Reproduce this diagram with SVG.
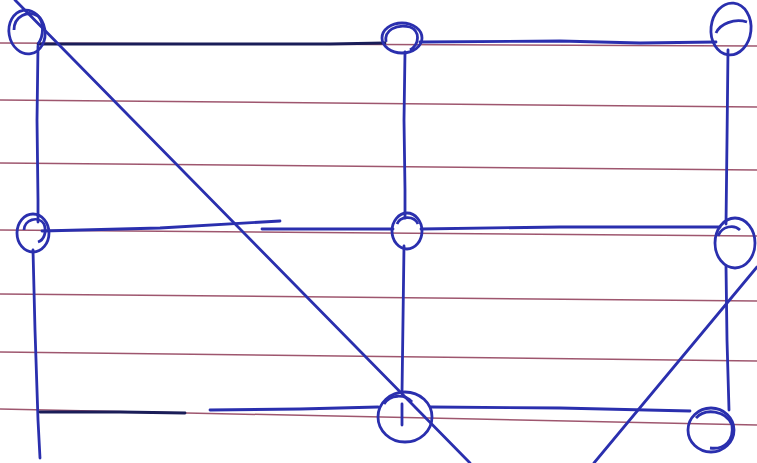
<svg xmlns="http://www.w3.org/2000/svg" width="757" height="463" viewBox="0 0 757 463">
<style>
.paper{stroke:#94445e;stroke-width:1.5;fill:none;opacity:0.9}
.ink{stroke:#2a2fae;stroke-width:2.8;fill:none;stroke-linecap:round;stroke-linejoin:round}
.dark{stroke:#1a1d58}
.node{stroke:#2a2fae;stroke-width:2.8;fill:none}
</style>
<rect width="757" height="463" fill="#ffffff"/>
<g id="paper">
<path class="paper" d="M0,43 L757,46"/>
<path class="paper" d="M0,100 L757,107"/>
<path class="paper" d="M0,163 L757,170"/>
<path class="paper" d="M0,230 L757,236"/>
<path class="paper" d="M0,294 L757,301"/>
<path class="paper" d="M0,352 L757,361"/>
<path class="paper" d="M0,409 L757,425"/>
</g>
<g id="connectors">
<path class="ink dark" d="M38,44 L200,44 L330,44 L385,43"/>
<path class="ink" d="M420,42 L560,41 L640,43 L716,42"/>
<path class="ink" d="M38,46 L37,120 L38,200 L38,222"/>
<path class="ink" d="M33,250 L35,330 L38,420 L40,458"/>
<path class="ink" d="M405,52 L404,120 L405,190 L405,218"/>
<path class="ink" d="M404,246 L403,320 L402,393"/>
<path class="ink" d="M728,50 L727,140 L726,224"/>
<path class="ink" d="M726,266 L727,340 L729,410"/>
<path class="ink" d="M42,231 L160,228 L280,221"/>
<path class="ink" d="M262,229 L340,229 L393,229"/>
<path class="ink" d="M421,229 L560,227 L720,227"/>
<path class="ink dark" d="M40,412 L120,412 L185,413"/>
<path class="ink" d="M210,410 L300,409 L378,407"/>
<path class="ink" d="M431,407 L560,408 L690,411"/>
<path class="ink" d="M15,0 L470,463"/>
<path class="ink" d="M757,267 L594,463"/>
</g>
<g id="node-a">
<ellipse class="node" cx="27" cy="32" rx="18" ry="22" transform="rotate(-10 27 32)"/>
<path class="node" d="M14,30 C14,16 28,10 38,16 C44,22 44,36 38,44"/>
</g>
<g id="node-b">
<ellipse class="node" cx="402" cy="38" rx="20" ry="15"/>
<path class="node" d="M386,42 C384,30 396,24 410,27 C420,31 420,44 410,50"/>
</g>
<g id="node-c">
<ellipse class="node" cx="731" cy="29" rx="20" ry="26" transform="rotate(6 731 29)"/>
<path class="node" d="M716,33 C720,24 734,18 747,22"/>
</g>
<g id="node-d">
<ellipse class="node" cx="33" cy="233" rx="16" ry="19"/>
<path class="node" d="M24,230 C24,220 38,215 44,224 C47,232 44,240 38,242"/>
</g>
<g id="node-e">
<ellipse class="node" cx="407" cy="231" rx="15" ry="18"/>
<path class="node" d="M397,224 C400,216 414,215 418,224"/>
</g>
<g id="node-f">
<ellipse class="node" cx="735" cy="243" rx="20" ry="25"/>
<path class="node" d="M718,236 C722,226 734,224 740,230"/>
</g>
<g id="node-g">
<ellipse class="node" cx="405" cy="417" rx="27" ry="25"/>
<path class="node" d="M384,404 C390,394 405,394 412,402"/>
<path class="ink" d="M402,404 L402,425"/>
</g>
<g id="node-h">
<ellipse class="node" cx="711" cy="430" rx="23" ry="22"/>
<path class="node" d="M696,418 C705,408 726,410 732,425 C734,440 725,450 710,448"/>
</g>
</svg>
